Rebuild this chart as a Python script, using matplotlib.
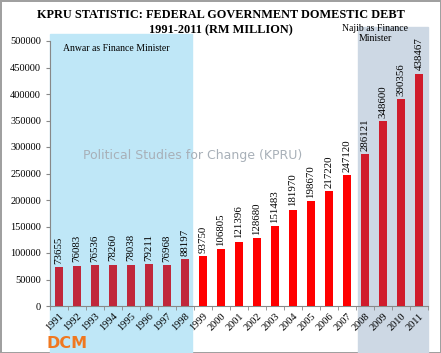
import numpy as np
import matplotlib.pyplot as plt
from matplotlib.patches import Rectangle
import matplotlib.transforms as mtransforms

years = [str(y) for y in range(1991, 2012)]
debt = [73655, 76083, 76536, 78260, 78038, 79211, 76968, 88197,
        93750, 106805, 121396, 128680, 151483, 181970, 198670, 217220,
        247120, 286121, 348600, 390356, 438467]
bar_colors = ['#c0283c'] * 8 + ['#ff0000'] * 9 + ['#d01c2c'] * 4

plt.rcParams['font.family'] = ['Liberation Serif', 'DejaVu Serif']

fig = plt.figure(figsize=(4.41, 3.53), dpi=100)
fig.patch.set_edgecolor('#a0a0a0')
fig.patch.set_linewidth(2)
ax = fig.add_axes([50 / 441, 1 - 306 / 353, 378 / 441, 265 / 353])

x = np.arange(len(years))
ax.bar(x, debt, width=0.43, color=bar_colors, zorder=3)
for xi, v in zip(x, debt):
    ax.text(xi, v + 6000, str(v), rotation=90, ha='center', va='bottom',
            fontsize=7.8, zorder=4)

# shaded finance minister periods (extend below the axis)
trans = mtransforms.blended_transform_factory(ax.transData, fig.transFigure)
ax.add_patch(Rectangle((-0.5, 0), 7.9, 1 - 34 / 353, transform=trans,
                       color='#bfe7f7', zorder=0, clip_on=False))
ax.add_patch(Rectangle((16.6, 0), 3.9, 1 - 27 / 353, transform=trans,
                       color='#cdd8e4', zorder=0, clip_on=False))

ax.text(3.2, 485000, 'Anwar as Finance Minister', ha='center', va='center', fontsize=7)
ax.text(17.55, 514000, 'Najib as Finance\nMinister', ha='center', va='center',
        fontsize=7, linespacing=1.1)

ax.set_xlim(-0.5, 20.5)
ax.set_ylim(0, 500000)
ax.set_yticks(np.arange(0, 500001, 50000))
ax.set_xticks(x)
ax.set_xticklabels(years, rotation=45, ha='right', rotation_mode='anchor', fontsize=7.5)
ax.tick_params(axis='y', labelsize=7.5, length=3, color='#888888')
ax.tick_params(axis='x', length=0, pad=4)
ax.set_xticks(np.arange(-0.5, 21, 1), minor=True)
ax.tick_params(axis='x', which='minor', length=3, color='#888888')
ax.patch.set_alpha(0)
for s in ['top', 'right']:
    ax.spines[s].set_visible(False)
ax.spines['left'].set_color('#888888')
ax.spines['bottom'].set_color('#888888')

fig.text(0.5, 1 - 15 / 353, 'KPRU STATISTIC: FEDERAL GOVERNMENT DOMESTIC DEBT',
         ha='center', va='center', fontsize=8.8, fontweight='bold')
fig.text(0.5, 1 - 30 / 353, '1991-2011 (RM MILLION)',
         ha='center', va='center', fontsize=8.8, fontweight='bold')
fig.text(193 / 441, 1 - 156 / 353, 'Political Studies for Change (KPRU)',
         ha='center', va='center', fontsize=9, color='#a8b0b8', family='DejaVu Sans')
fig.text(47 / 441, 1 - 343 / 353, 'DCM', ha='left', va='center', fontsize=11.5,
         color='#f07820', fontweight='bold', family='DejaVu Sans')

fig.savefig('out.png', dpi=100)
